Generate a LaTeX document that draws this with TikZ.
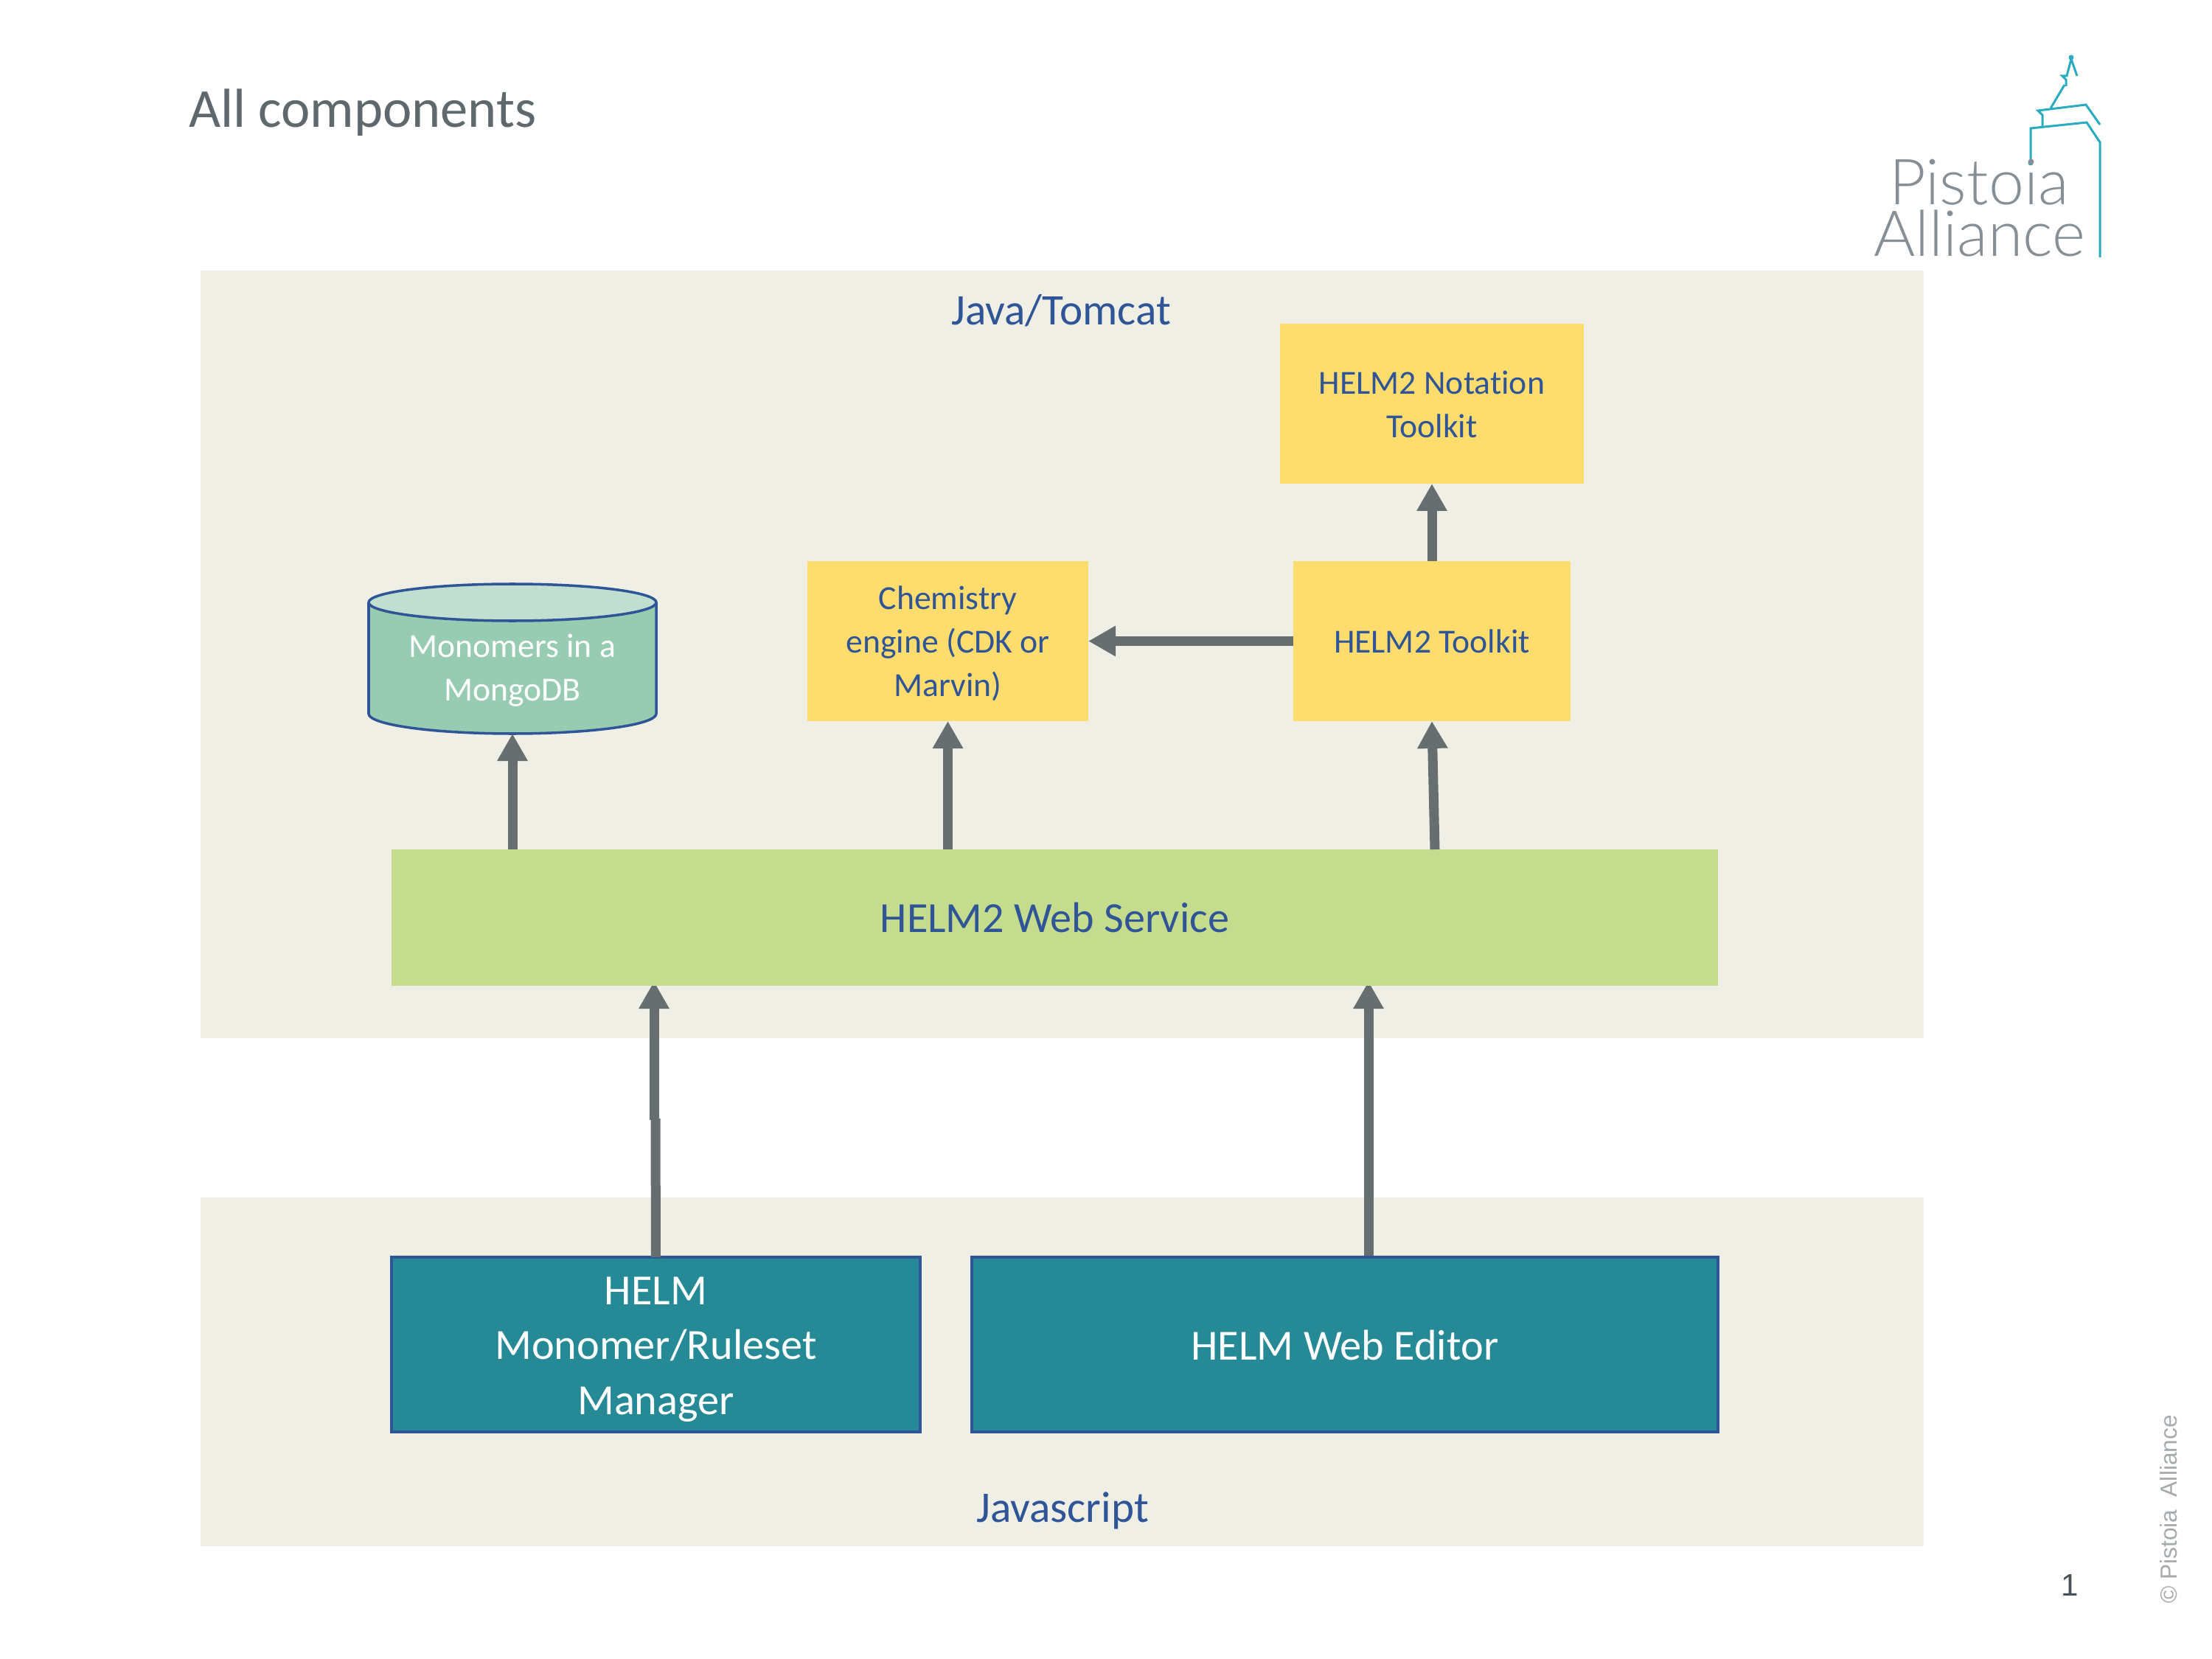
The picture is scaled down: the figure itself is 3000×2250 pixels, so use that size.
\documentclass[tikz,border=0pt]{standalone}
\usepackage{fontspec}
\usetikzlibrary{arrows.meta}
\setmainfont[Ligatures=NoCommon]{Carlito}
\newfontfamily\logofont{Lato Light}
\newfontfamily\arialfont{Liberation Sans}
\definecolor{panelbg}{HTML}{EFEFE6}
\definecolor{wsgreen}{HTML}{C5DC8E}
\definecolor{boxyellow}{HTML}{FEDC6E}
\definecolor{boxteal}{HTML}{268A96}
\definecolor{edgeblue}{HTML}{2F5597}
\definecolor{cylbody}{HTML}{98CCB2}
\definecolor{cyltop}{HTML}{C1DFD1}
\definecolor{arrowgrey}{HTML}{666E70}
\definecolor{titlegrey}{HTML}{5F686C}
\definecolor{logoteal}{HTML}{2AACC0}
\definecolor{logogrey}{HTML}{868E96}
\definecolor{pagegrey}{HTML}{4A5058}
\definecolor{copygrey}{HTML}{A6AAAD}
\def\px{0.02cm}
\pgfdeclarelayer{panels}
\pgfdeclarelayer{flows}
\pgfsetlayers{panels,flows,main}
\tikzset{
  panel/.style={fill=panelbg,inner sep=0,outer sep=0},
  panellabel/.style={text=edgeblue,inner sep=0,font=\fontsize{33.7}{40}\selectfont},
  ybox/.style={fill=boxyellow,text=edgeblue,inner sep=0,outer sep=0,align=center,font=\fontsize{26}{33.6}\selectfont},
  wsbox/.style={fill=wsgreen,text=edgeblue,inner sep=0,outer sep=0,font=\fontsize{33.1}{38}\selectfont},
  tealbox/.style={fill=boxteal,draw=edgeblue,line width=2.2pt,text=white,inner sep=0,outer sep=0,align=center,font=\fontsize{33.2}{42.5}\selectfont},
  dbtext/.style={text=white,inner sep=0,outer sep=0,align=center,font=\fontsize{26}{33.6}\selectfont},
  dbline/.style={draw=edgeblue,line width=2pt},
  flow/.style={draw=arrowgrey,line width=13*\px,-{Triangle[width=39*\px,length=37*\px]}},
  flowplain/.style={draw=arrowgrey,line width=13*\px},
  logoline/.style={draw=logoteal,line width=3*\px,line join=miter},
}
\begin{document}
\begin{tikzpicture}[x=\px,y=-\px]
\useasboundingbox (0,0) rectangle (3000,2250);
\begin{pgfonlayer}{panels}
\fill[white] (0,0) rectangle (3000,2250);
\node[panel,minimum width=2337*\px,minimum height=1041*\px] (java) at (1440.5,887.5) {};
\node[panel,minimum width=2337*\px,minimum height=473*\px] (js) at (1440.5,1860.5) {};
\end{pgfonlayer}
\node[panellabel] (javalabel) at (1439,421) {Java/Tomcat};
\node[panellabel] (jslabel) at (1441,2049) {Javascript};
% title
\node[anchor=base west,inner sep=0,text=titlegrey,font=\fontsize{42.4}{50}\selectfont] (title) at (256,173) {All components};
% boxes
\node[wsbox,minimum width=1799*\px,minimum height=185*\px] (ws) at (1430.5,1244.5) {HELM2 Web Service};
\node[ybox,minimum width=412*\px,minimum height=217*\px] (notation) at (1942,547.5) {\rule{0pt}{18.5pt}HELM2 Notation\\Toolkit};
\node[ybox,minimum width=376*\px,minimum height=217*\px] (toolkit) at (1942,869.5) {HELM2 Toolkit};
\node[ybox,minimum width=381*\px,minimum height=217*\px] (chem) at (1285.5,869.5) {\rule{0pt}{22.3pt}Chemistry\\engine (CDK or\\Marvin)};
% database
\fill[cylbody] (500,817) -- (500,968) arc[start angle=180,end angle=360,x radius=195,y radius=-27] -- (890,817) -- cycle;
\draw[dbline] (500,817) -- (500,968) arc[start angle=180,end angle=360,x radius=195,y radius=-27] -- (890,817);
\draw[dbline,fill=cyltop] (695,817) ellipse[x radius=195,y radius=25];
\node[dbtext,minimum width=390*\px,minimum height=204*\px] (mongo) at (695,893) {\rule{0pt}{36.5pt}Monomers in a\\MongoDB};
\node[tealbox,minimum width=717*\px,minimum height=237*\px] (manager) at (889.5,1823.5) {\rule{0pt}{29pt}HELM\\Monomer/Ruleset\\Manager};
\node[tealbox,minimum width=1012*\px,minimum height=237*\px] (editor) at (1824,1823.5) {\rule{0pt}{24pt}HELM Web Editor};
% free ends
\coordinate (wsA) at (ws.north -| mongo.south);
\coordinate (wsB) at (ws.north -| chem.south);
\coordinate (wsC) at (1946,1152);
\coordinate (kinkLow) at (889,1517);
\coordinate (kinkHigh) at (887,1519);
\coordinate (wsD) at (887,1331);
\coordinate (wsE) at (1856,1331);
\coordinate (edE) at (1856,1706);
% connectors
\draw[flow] (wsA) -- (mongo.south);
\draw[flow] (wsB) -- (chem.south);
\draw[flow] (wsC) -- (toolkit.south);
\draw[flow] (toolkit.west) -- (chem.east);
\draw[flow] (toolkit.north) -- (notation.south);
\draw[flowplain] (manager.north) -- (kinkLow);
\begin{pgfonlayer}{flows}
\draw[flow] (kinkHigh) -- (wsD);
\draw[flow] (edE) -- (wsE);
\end{pgfonlayer}
% logo
\draw[logoline] (2754,221) -- (2754,174) -- (2830,166) -- (2848,193) -- (2848,349);
\draw[logoline] (2770,172) -- (2770,156) -- (2764,150) -- (2829,142) -- (2848,169);
\draw[logoline] (2781,147) -- (2800,115);
\draw[logoline] (2802,117) -- (2802,108) -- (2797,103) -- (2803,103) -- (2809,80) -- (2817,103);
\fill[logoteal] (2754,221) circle (3.5);
\fill[logoteal] (2809,78) circle (3.5);
\node[anchor=base west,inner sep=0,text=logogrey,font=\logofont\fontsize{49}{49}\selectfont] (logoa) at (2562,278) {Pistoia};
\node[anchor=base west,inner sep=0,text=logogrey,font=\logofont\fontsize{49}{49}\selectfont] (logob) at (2541,348) {Alliance};
% footer
\node[inner sep=0,text=pagegrey,font=\arialfont\fontsize{24}{28}\selectfont] (pageno) at (2807,2150) {1};
\node[anchor=base west,rotate=90,inner sep=0,text=copygrey,font=\arialfont\fontsize{18}{24}\selectfont] (copy) at (2952,2175) {© Pistoia\ \ Alliance};
\end{tikzpicture}
\end{document}
